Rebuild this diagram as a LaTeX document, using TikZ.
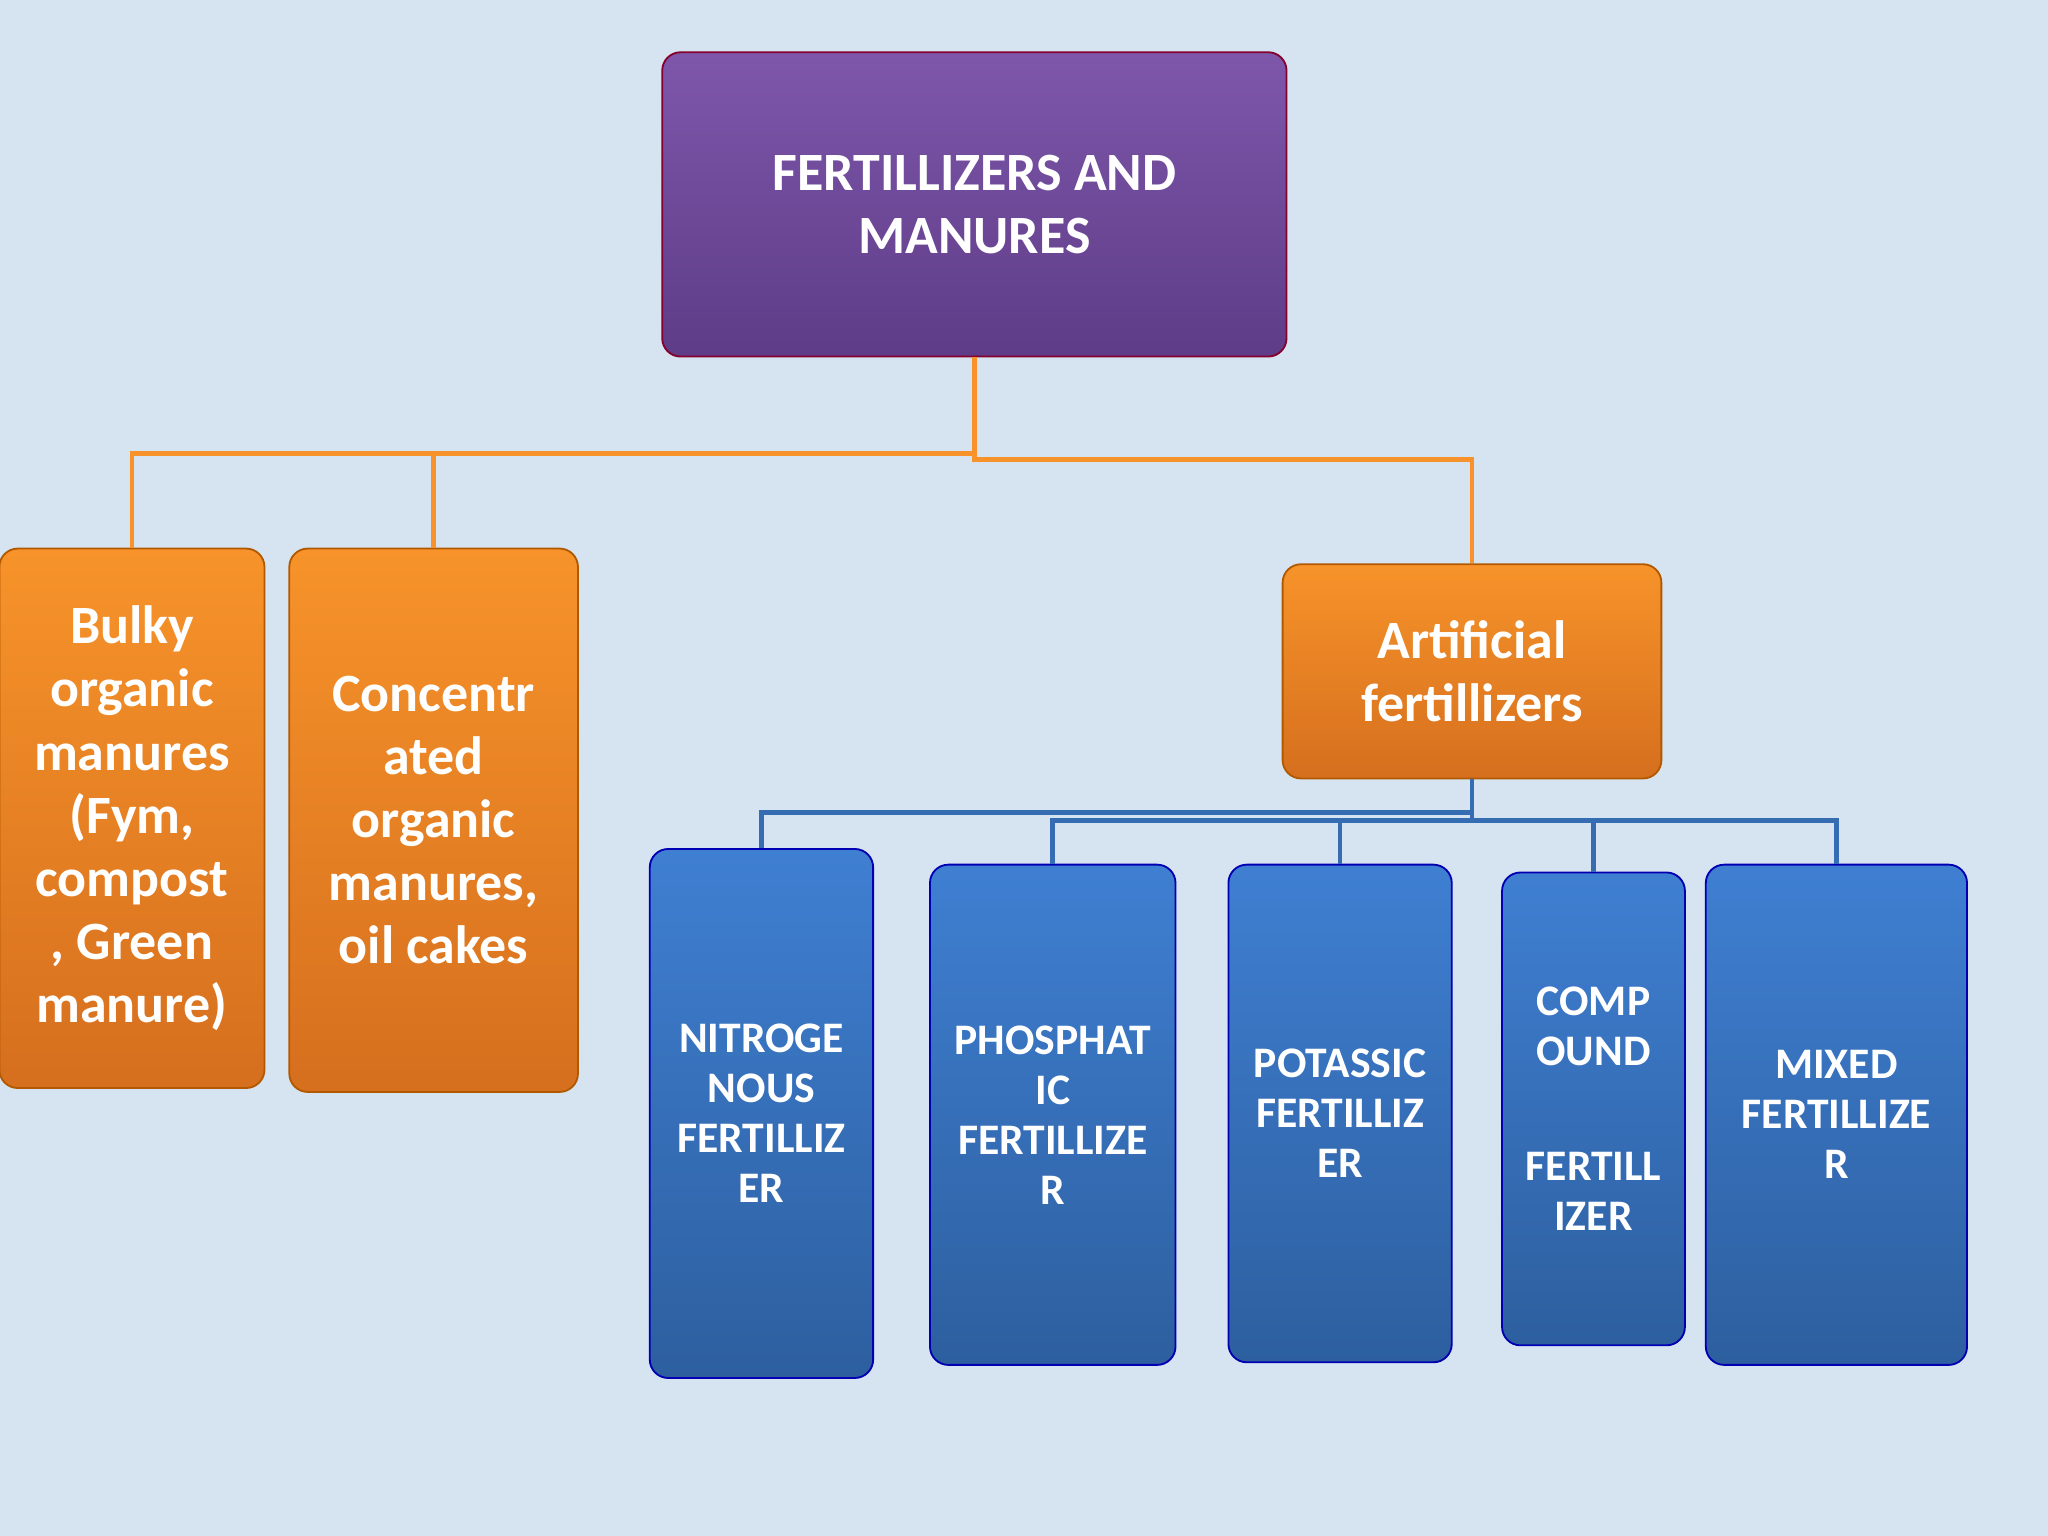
\documentclass[tikz,border=0pt]{standalone}
\usepackage{fontspec}
\setmainfont{Carlito}
\begin{document}
\begin{tikzpicture}[x=0.02cm,y=-0.02cm,
 box/.style={rounded corners=8pt,draw=#1!70!black,line width=0.8pt,align=center,text=white,font=\bfseries},
 purp/.style={box=purple,top color=purpA,bottom color=purpB},
 oran/.style={box=orange,top color=oraA,bottom color=oraB,font=\bfseries\fontsize{23.5}{27.5}\selectfont},
 blu/.style={box=blue,top color=bluA,bottom color=bluB,font=\bfseries\fontsize{19}{21.8}\selectfont},
 oline/.style={draw=oraA,line width=2pt},
 bline/.style={draw=bluA!85!black,line width=2pt}]
\definecolor{purpA}{HTML}{7E57AB}\definecolor{purpB}{HTML}{5E3C87}
\definecolor{oraA}{HTML}{F7932A}\definecolor{oraB}{HTML}{D66F1E}
\definecolor{bluA}{HTML}{3F7FD2}\definecolor{bluB}{HTML}{2D5F9F}
\fill[color={rgb,255:red,214;green,228;blue,242}] (0,0) rectangle (1568,1176);
\useasboundingbox (0,0) rectangle (1568,1176);
\node[purp,minimum width=478*0.02cm,minimum height=233*0.02cm,font=\bfseries\fontsize{23.5}{27.5}\selectfont] (top) at (746,156.5) {FERTILLIZERS AND\\MANURES};
\node[oran,minimum width=203*0.02cm,minimum height=413*0.02cm] (bulky) at (101,626.5) {Bulky\\organic\\manures\\(Fym,\\compost\\, Green\\manure)};
\node[oran,minimum width=221*0.02cm,minimum height=416*0.02cm] (conc) at (332,628) {Concentr\\ated\\organic\\manures,\\oil cakes};
\node[oran,minimum width=290*0.02cm,minimum height=164*0.02cm] (art) at (1127,514) {Artificial\\fertillizers};
\node[blu,minimum width=171*0.02cm,minimum height=405*0.02cm] (n) at (583,852.5) {NITROGE\\NOUS\\FERTILLIZ\\ER};
\node[blu,minimum width=188*0.02cm,minimum height=383*0.02cm] (p) at (806,853.5) {PHOSPHAT\\IC\\FERTILLIZE\\R};
\node[blu,minimum width=171*0.02cm,minimum height=381*0.02cm] (k) at (1026,852.5) {POTASSIC\\FERTILLIZ\\ER};
\node[blu,minimum width=140*0.02cm,minimum height=362*0.02cm] (c) at (1220,849) {COMP\\OUND\\[1.5em]FERTILL\\IZER};
\node[blu,minimum width=200*0.02cm,minimum height=383*0.02cm] (m) at (1406,853.5) {MIXED\\FERTILLIZE\\R};
\draw[oline] (top.south) -- (746,347) -| (bulky.north);
\draw[oline] (332,347) -- (conc.north);
\draw[oline] (746,347) |- (1127,352) -- (art.north);
\draw[bline] (art.south) -- (1127,628) -- (806,628) -- (p.north);
\draw[bline] (1127,622) -| (n.north);
\draw[bline] (1127,628) -| (k.north);
\draw[bline] (1127,628) -| (c.north);
\draw[bline] (1127,628) -| (m.north);
\end{tikzpicture}
\end{document}
